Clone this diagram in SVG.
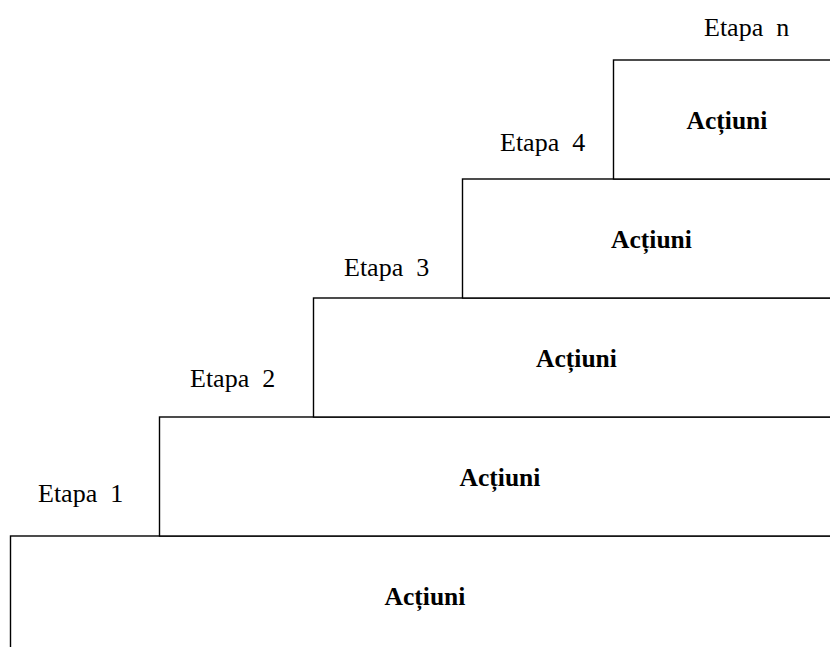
<svg xmlns="http://www.w3.org/2000/svg" width="830" height="647" viewBox="0 0 830 647">
<style>
.box{fill:#fff;stroke:#000;stroke-width:1.4}
.lbl{font-family:"Liberation Serif","Times New Roman",serif;font-size:26px;fill:#000;white-space:pre}
.act{font-family:"Liberation Serif","Times New Roman",serif;font-size:25.5px;font-weight:bold;fill:#000;text-anchor:middle}
</style>
<rect width="830" height="647" fill="#fff"/>
<g id="step1">
<rect class="box" x="10.5" y="536" width="840" height="130"/>
<text class="act" x="425" y="605">Acțiuni</text>
<text class="lbl" x="38" y="502" xml:space="preserve">Etapa  1</text>
</g>
<g id="step2">
<rect class="box" x="159.5" y="417" width="690" height="119"/>
<text class="act" x="500" y="486">Acțiuni</text>
<text class="lbl" x="190" y="387" xml:space="preserve">Etapa  2</text>
</g>
<g id="step3">
<rect class="box" x="313.5" y="298" width="540" height="119"/>
<text class="act" x="576.5" y="367">Acțiuni</text>
<text class="lbl" x="344" y="276" xml:space="preserve">Etapa  3</text>
</g>
<g id="step4">
<rect class="box" x="462.5" y="179" width="390" height="119"/>
<text class="act" x="651.5" y="248">Acțiuni</text>
<text class="lbl" x="500" y="151" xml:space="preserve">Etapa  4</text>
</g>
<g id="stepn">
<rect class="box" x="613.5" y="60" width="240" height="119"/>
<text class="act" x="727" y="129">Acțiuni</text>
<text class="lbl" x="704" y="36" xml:space="preserve">Etapa  n</text>
</g>
<g id="connectors"></g>
</svg>
